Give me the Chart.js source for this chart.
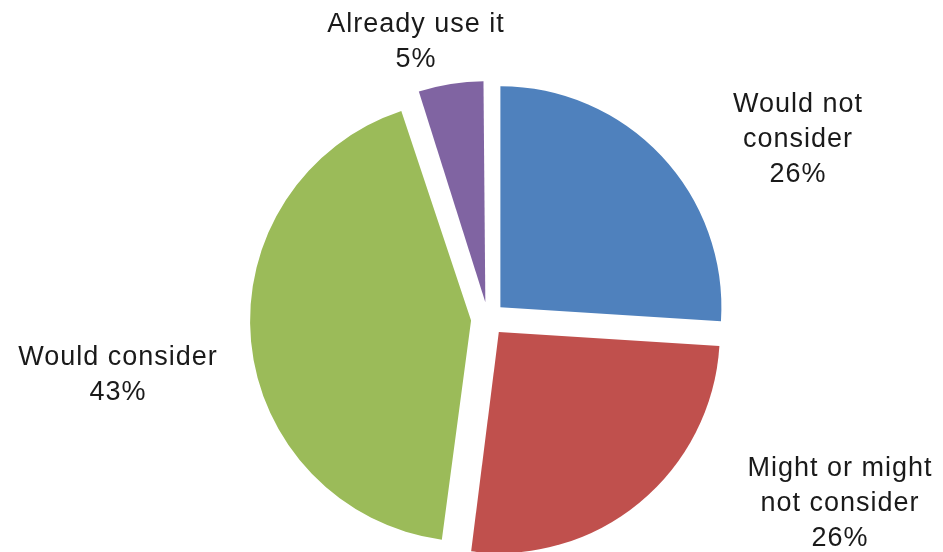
<!DOCTYPE html>
<html lang="en">
<head>
    <meta charset="UTF-8">
    <title>Consideration pie</title>
    <script src="https://cdn.jsdelivr.net/npm/chart.js@4/dist/chart.umd.min.js"></script>
    <style>
        html, body {
            margin: 0;
            padding: 0;
            background: #ffffff;
        }
        #wrap {
            width: 943px;
            height: 552px;
        }
    </style>
</head>
<body>
    <div id="wrap"><canvas id="pie"></canvas></div>

    <script>
        const categories = ['Would not consider', 'Might or might not consider', 'Would consider', 'Already use it'];
        const shares = [26, 26, 43, 5];
        const sliceColors = ['#4F81BD', '#C0504D', '#9BBB59', '#8064A2'];

        // label lines and where they sit, one entry per slice
        const labelLines = [
            ['Would not', 'consider'],
            ['Might or might', 'not consider'],
            ['Would consider'],
            ['Already use it']
        ];
        const labelSpots = [
            { x: 798, y: 112 },
            { x: 840, y: 476 },
            { x: 118, y: 365 },
            { x: 416, y: 32 }
        ];

        // exploded slices should keep their radius, so undo the arc's own radius fix
        const baseDraw = Chart.ArcElement.prototype.draw;
        Chart.ArcElement.prototype.draw = function(ctx) {
            const off = (this.options.offset || 0) / 4;
            const fix = 1 - Math.sin(Math.min(Math.PI, this.circumference || 0));
            const r = this.outerRadius;
            this.outerRadius = r - off * fix;
            baseDraw.call(this, ctx);
            this.outerRadius = r;
        };

        const sliceLabels = {
            id: 'sliceLabels',
            afterDraw(chart) {
                const ctx = chart.ctx;
                ctx.save();
                ctx.font = '27px "Liberation Sans", Arial, sans-serif';
                ctx.letterSpacing = '1px';
                ctx.fillStyle = '#1a1a1a';
                ctx.textAlign = 'center';
                ctx.textBaseline = 'alphabetic';
                shares.forEach((v, i) => {
                    const lines = labelLines[i].concat([v + '%']);
                    lines.forEach((t, j) => {
                        ctx.fillText(t, labelSpots[i].x, labelSpots[i].y + j * 35);
                    });
                });
                ctx.restore();
            }
        };

        new Chart(document.getElementById('pie'), {
            type: 'pie',
            data: {
                labels: categories,
                datasets: [{
                    data: shares,
                    backgroundColor: sliceColors,
                    borderWidth: 0,
                    offset: 68,
                    radius: 221
                }]
            },
            options: {
                responsive: true,
                maintainAspectRatio: false,
                animation: false,
                layout: {
                    padding: { left: 33, right: 0, top: 86, bottom: 0 }
                },
                plugins: {
                    legend: { display: false },
                    tooltip: { enabled: false }
                }
            },
            plugins: [sliceLabels]
        });
    </script>
</body>
</html>
